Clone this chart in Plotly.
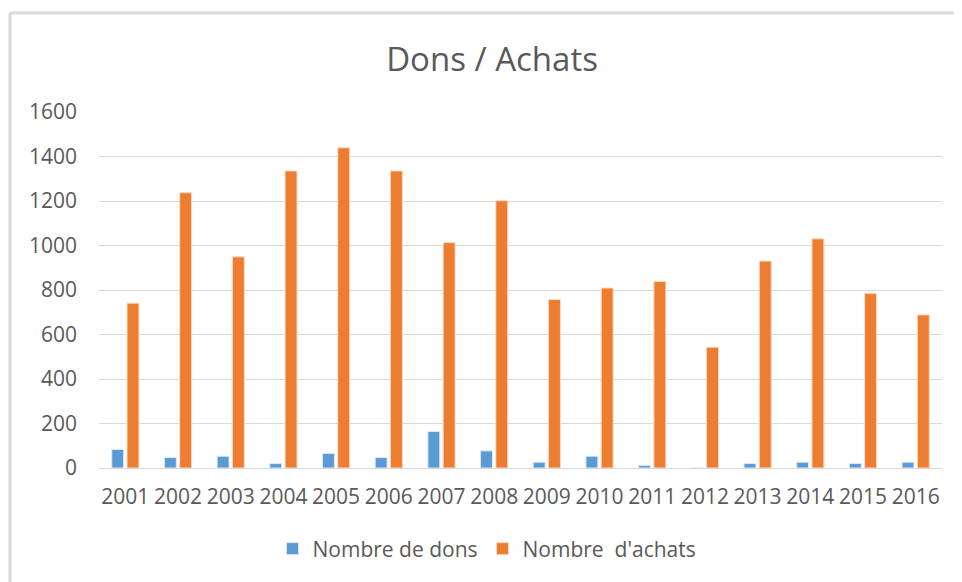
import plotly.graph_objects as go

years = ["2001", "2002", "2003", "2004", "2005", "2006", "2007", "2008",
         "2009", "2010", "2011", "2012", "2013", "2014", "2015", "2016"]
dons = [83, 47, 53, 20, 65, 47, 164, 77, 26, 53, 12, 0, 20, 26, 20, 26]
achats = [741, 1237, 949, 1335, 1439, 1335, 1013, 1201,
          757, 809, 838, 543, 930, 1030, 785, 688]
y_ticks = [0, 200, 400, 600, 800, 1000, 1200, 1400, 1600]

# page body has an 8px margin: work in screen pixels, offset by 8
OFF = 8
W, H = 962 - OFF, 582 - OFF
plot_left, plot_right = 99, 942   # screen px
plot_top, plot_bottom = 112, 468  # screen px
L = plot_left - OFF
R = 962 - plot_right
T = plot_top - OFF
B = 582 - plot_bottom
pw, ph = plot_right - plot_left, plot_bottom - plot_top


def px_x(px):
    return (px - plot_left) / pw


def px_y(py):
    return (plot_bottom - py) / ph


fig = go.Figure()
fig.add_trace(go.Bar(x=years, y=dons, name="Nombre de dons",
                     marker=dict(color="#5B9BD5", line=dict(color="#dbe8f5", width=1))))
fig.add_trace(go.Bar(x=years, y=achats, name="Nombre  d'achats",
                     marker=dict(color="#ED7D31", line=dict(color="#fbd9c4", width=1))))

fig.update_layout(
    width=W, height=H,
    margin=dict(l=L, r=R, t=T, b=B),
    paper_bgcolor="white", plot_bgcolor="white",
    barmode="group", bargap=0.42, bargroupgap=0.22,
    font=dict(family="Open Sans", color="#595959", size=20),
    title=dict(text="Dons / Achats", x=(492 - OFF) / W, xref="container", xanchor="center",
               y=1 - (59 - OFF) / H, yref="container", yanchor="middle",
               font=dict(family="Open Sans", size=33, color="#595959")),
    showlegend=True,
    legend=dict(orientation="h", xref="container", yref="container",
                x=(487 - OFF) / W, xanchor="center", y=1 - (549 - OFF) / H, yanchor="middle",
                font=dict(family="Open Sans", size=21, color="#595959"),
                itemwidth=30, traceorder="normal"),
    xaxis=dict(type="category", showgrid=False, showline=False, ticks="",
               tickfont=dict(size=21), tickangle=0, automargin=False,
               ticklabelstandoff=14),
    yaxis=dict(range=[0, 1600], tickvals=y_ticks, showgrid=True, gridcolor="#d9d9d9",
               gridwidth=1, zeroline=True, zerolinecolor="#d9d9d9", zerolinewidth=1,
               showline=False, ticks="", tickfont=dict(size=21), automargin=False,
               ticklabelstandoff=21),
    shapes=[
        dict(type="line", xref="paper", yref="paper",
             x0=px_x(10), x1=px_x(962), y0=px_y(13), y1=px_y(13),
             line=dict(color="#d9d9d9", width=3)),
        dict(type="line", xref="paper", yref="paper",
             x0=px_x(10), x1=px_x(10), y0=px_y(13), y1=px_y(582),
             line=dict(color="#d9d9d9", width=3)),
    ],
)

fig.write_html("out.html")
